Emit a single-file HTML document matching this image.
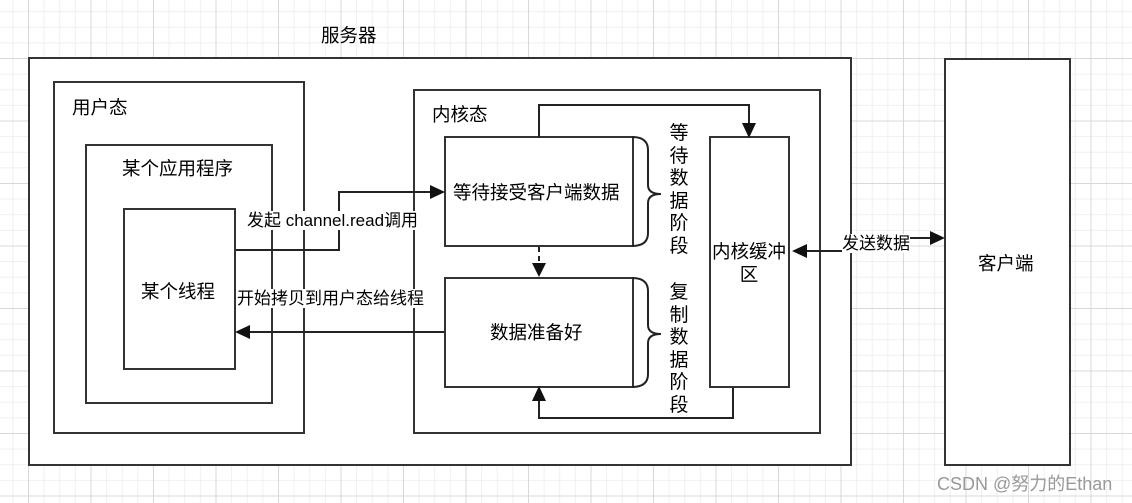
<!DOCTYPE html>
<html><head><meta charset="utf-8"><style>
html,body{margin:0;padding:0}
body{width:1132px;height:503px;position:relative;overflow:hidden;background-color:#fff;
background-image:
linear-gradient(#d8d8d8 1px,transparent 1px),
linear-gradient(90deg,#d8d8d8 1px,transparent 1px),
linear-gradient(#efefef 1px,transparent 1px),
linear-gradient(90deg,#efefef 1px,transparent 1px);
background-size:62.5px 62.5px,62.5px 62.5px,15.625px 15.625px,15.625px 15.625px;
background-position:0 -4.5px,28px 0,0 -4.5px,28px 0;
font-family:"Liberation Sans","Noto Sans CJK SC",sans-serif;color:#000}
.b{position:absolute;border:2px solid #333;background:#fff;box-sizing:border-box}
.t{position:absolute;font-size:18.5px;white-space:nowrap;line-height:22px}
.lbl{position:absolute;font-size:17px;white-space:nowrap;background:#fff;line-height:19px}
.v{position:absolute;font-size:19px;width:24px;line-height:22.5px;text-align:center}
svg{position:absolute;left:0;top:0}
</style></head><body>
<div class="t" style="left:321px;top:25px">服务器</div>
<div class="b" style="left:28px;top:57px;width:824px;height:409px"></div>
<div class="b" style="left:53px;top:81px;width:252px;height:353px"></div>
<div class="t" style="left:72px;top:97px">用户态</div>
<div class="b" style="left:85px;top:144px;width:188px;height:260px"></div>
<div class="t" style="left:122px;top:158px">某个应用程序</div>
<div class="b" style="left:123px;top:208px;width:113px;height:162px"></div>
<div class="t" style="left:141px;top:281px">某个线程</div>
<div class="b" style="left:413px;top:89px;width:408px;height:345px"></div>
<div class="t" style="left:432px;top:104px">内核态</div>
<div class="b" style="left:444px;top:136px;width:190px;height:111px"></div>
<div class="t" style="left:453px;top:182px">等待接受客户端数据</div>
<div class="b" style="left:444px;top:277px;width:190px;height:111px"></div>
<div class="t" style="left:490px;top:322px">数据准备好</div>
<div class="b" style="left:709px;top:136px;width:81px;height:252px"></div>
<div class="t" style="left:710px;top:240px;width:78px;text-align:center;white-space:normal;line-height:23px">内核缓冲<br>区</div>
<div class="b" style="left:944px;top:58px;width:127px;height:408px"></div>
<div class="t" style="left:978px;top:253px">客户端</div>
<svg width="1132" height="503">
<g fill="none" stroke="#222" stroke-width="2">
<path d="M632 137 Q648 137 648 150 L648 185 Q648 194 661 194 Q648 194 648 203 L648 233 Q648 246 632 246"/>
<path d="M632 278 Q648 278 648 291 L648 325 Q648 334 661 334 Q648 334 648 343 L648 374 Q648 387 632 387"/>
<path d="M539 137 V105 H749 V124"/>
<path d="M733 388 V418 H539 V400"/>
<path d="M539 247 V264" stroke-dasharray="5,4"/>
<path d="M236 250 H339 V192 H432"/>
<path d="M444 332 H248"/>
<path d="M806 251 H843 M910 238 H932"/>
</g>
<g fill="#111">
<path d="M742 123 L749 138 L756 123 Z"/>
<path d="M532 401 L539 386 L546 401 Z"/>
<path d="M532 263 L539 277 L546 263 Z"/>
<path d="M430 185 L445 192 L430 199 Z"/>
<path d="M250 325 L235 332 L250 339 Z"/>
<path d="M807 244 L792 251 L807 258 Z"/>
<path d="M930 231 L945 238 L930 245 Z"/>
</g>
</svg>
<div class="lbl" style="left:247px;top:211px">发起 channel.read调用</div>
<div class="lbl" style="left:237px;top:289px">开始拷贝到用户态给线程</div>
<div class="lbl" style="left:842px;top:234px">发送数据</div>
<div class="v" style="left:667px;top:123px">等<br>待<br>数<br>据<br>阶<br>段</div>
<div class="v" style="left:667px;top:282px">复<br>制<br>数<br>据<br>阶<br>段</div>
<div class="t" style="left:937px;top:473px;font-size:18px;color:#999">CSDN @努力的Ethan</div>
</body></html>
